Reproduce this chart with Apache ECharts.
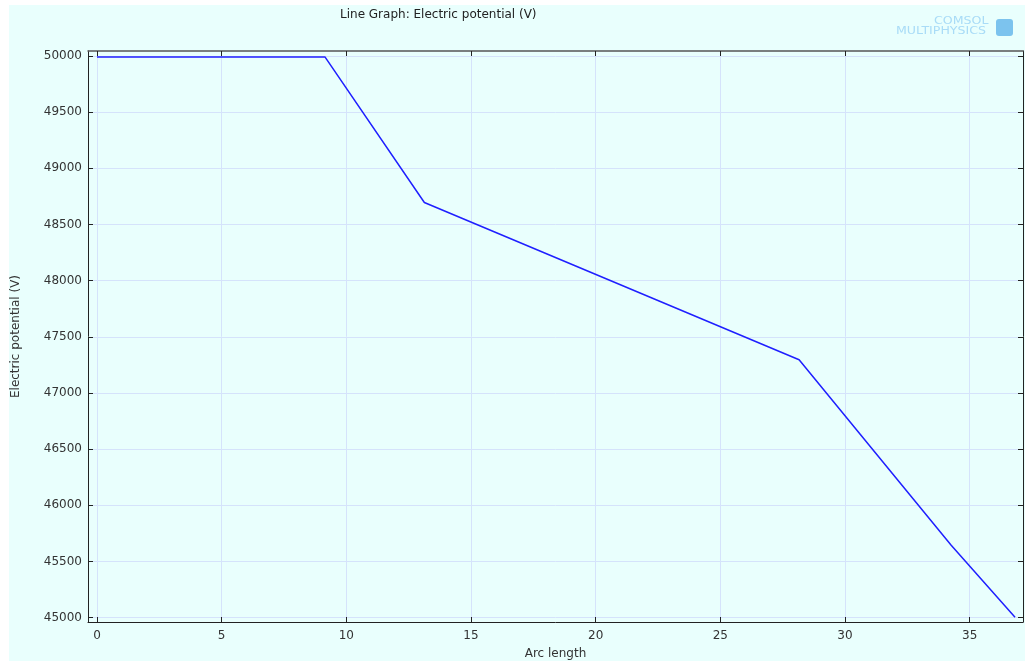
<!DOCTYPE html>
<html>
<head>
<meta charset="utf-8">
<script src="https://cdn.jsdelivr.net/npm/echarts@6/dist/echarts.min.js"></script>
<style>
  html, body { margin: 0; padding: 0; background: #fff; }
  #chart { width: 1025px; height: 663px; }
</style>
</head>
<body>
<div id="chart"></div>
<script>
// arc length vs. potential
const arcLength = [0, 9.15, 13.13, 28.16, 34.26, 36.82];
const potential = [49990, 49990, 48695, 47295, 45645, 45003];
const xTicks = [0, 5, 10, 15, 20, 25, 30, 35];
const yTicks = [45000, 45500, 46000, 46500, 47000, 47500, 48000, 48500, 49000, 49500, 50000];

const FONT = 'DejaVu Sans';
const bg = '#e9fffd';
const gridColor = '#d5e3fb';

const chart = echarts.init(document.getElementById('chart'));

function xAx(pos, showLabel) {
  return {
    type: 'value', position: pos, min: -0.36, max: 37.14,
    axisLine: { show: true, onZero: false, lineStyle: { color: pos === 'top' ? '#555' : '#222', width: pos === 'top' ? 1.5 : 1 } },
    axisTick: { show: true, inside: true, length: 5, customValues: xTicks, lineStyle: { color: '#222' } },
    axisLabel: { show: showLabel, customValues: xTicks, margin: 8, fontFamily: FONT, fontSize: 12, color: '#333' },
    splitLine: { show: showLabel, lineStyle: { color: gridColor, width: 1 } },
    name: showLabel ? 'Arc length' : '', nameLocation: 'middle', nameGap: 26,
    nameTextStyle: { fontFamily: FONT, fontSize: 12, color: '#333' }
  };
}
function yAx(pos, showLabel) {
  return {
    type: 'value', position: pos, min: 44961, max: 50044,
    axisLine: { show: true, onZero: false, lineStyle: { color: '#222', width: 1 } },
    axisTick: { show: true, inside: true, length: 5, customValues: yTicks, lineStyle: { color: '#222' } },
    axisLabel: { show: showLabel, customValues: yTicks, margin: 6, fontFamily: FONT, fontSize: 12, color: '#333',
      formatter: v => String(v) },
    splitLine: { show: showLabel, lineStyle: { color: gridColor, width: 1 } },
    name: showLabel ? 'Electric potential (V)' : '', nameLocation: 'middle', nameGap: 66,
    nameTextStyle: { fontFamily: FONT, fontSize: 12, color: '#333' }
  };
}

chart.setOption({
  animation: false,
  backgroundColor: '#fff',
  graphic: [
    { type: 'rect', z: -10, silent: true, shape: { x: 9, y: 5, width: 1016, height: 656 }, style: { fill: bg } },
    { type: 'text', left: 340, top: 9, style: { text: 'Line Graph: Electric potential (V)', font: '12px "DejaVu Sans"', fill: '#222' } },
    // logo text is stretched wide, like the COMSOL mark
    { type: 'text', x: 934, y: 16, scaleX: 1.26, style: { text: 'COMSOL', font: '10px "DejaVu Sans"', fill: '#a9dcf7' } },
    { type: 'text', x: 896, y: 26, scaleX: 1.26, style: { text: 'MULTIPHYSICS', font: '10px "DejaVu Sans"', fill: '#a9dcf7' } },
    { type: 'rect', left: 996, top: 19, shape: { width: 17, height: 17, r: 3 }, style: { fill: '#7cc3ee' } }
  ],
  grid: { left: 88, right: 2, top: 51, bottom: 41, containLabel: false, outerBoundsMode: 'none' },
  xAxis: [xAx('bottom', true), xAx('top', false)],
  yAxis: [yAx('left', true), yAx('right', false)],
  series: [{
    type: 'line',
    data: arcLength.map((x, i) => [x, potential[i]]),
    showSymbol: false,
    lineStyle: { color: '#1f1fff', width: 1.5 },
    z: 5
  }]
});
</script>
</body>
</html>
